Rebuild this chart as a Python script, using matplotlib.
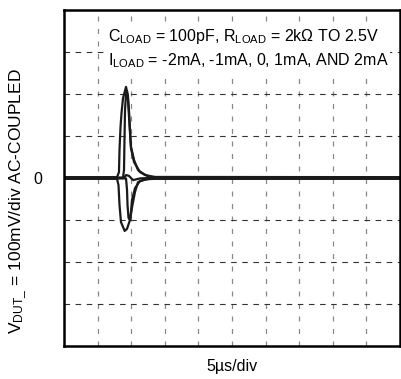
import matplotlib.pyplot as plt
import numpy as np

plt.rcParams['font.family'] = ['Liberation Sans', 'DejaVu Sans']
plt.rcParams['mathtext.fontset'] = 'custom'
plt.rcParams['mathtext.rm'] = 'Liberation Sans'
plt.rcParams['mathtext.it'] = 'Liberation Sans'

# time in us (5us/div), voltage in mV (100mV/div)
t_2ma = [0, 7.89, 8.18, 8.26, 8.41, 8.56, 8.78, 9.23, 9.52, 9.67, 9.82, 9.97, 10.42, 11.01, 12.05, 13.54, 50]
v_2ma = [2, 2, 14, 67, 121, 155, 190, 217, 195, 162, 114, 74, 43, 19, 7, 2.5, 2]

t_1ma = [0, 8.78, 8.93, 9.0, 9.08, 9.23, 9.38, 9.52, 9.75, 9.97, 10.42, 11.31, 12.8, 15.03, 50]
v_1ma = [1, 1, 19, 90, 162, 202, 207, 186, 126, 71, 38, 14, 2, 1, 1]

t_0ma = [0, 8.93, 9.23, 9.67, 10.27, 11.31, 12.8, 50]
v_0ma = [0, 0, 7, 5, -5, -1, 0, 0]

t_m1ma = [0, 9.23, 9.38, 9.45, 9.6, 9.82, 9.97, 10.12, 10.57, 11.31, 12.8, 14.3, 50]
v_m1ma = [-1, -1, -29, -64, -95, -100, -81, -52, -24, -7, -1.5, -1, -1]

t_m2ma = [0, 7.89, 8.11, 8.26, 8.48, 9.03, 9.38, 9.82, 10.19, 10.57, 11.01, 12.05, 13.54, 50]
v_m2ma = [-2, -2, -17, -64, -105, -126, -121, -100, -64, -33, -10, -3, -2, -2]

traces = [(t_2ma, v_2ma), (t_1ma, v_1ma), (t_0ma, v_0ma), (t_m1ma, v_m1ma), (t_m2ma, v_m2ma)]

fig = plt.figure(figsize=(4.02, 3.79), dpi=100)
ax = fig.add_axes([64/402, 33/379, 336/402, 336/379])

for t, v in traces:
    ax.plot(t, v, color='#1a1a1a', lw=1.6, solid_joinstyle='round')

ax.set_xlim(0, 50)
ax.set_ylim(-400, 400)
ax.set_xticks(np.arange(5, 50, 5))
ax.set_yticks(np.arange(-300, 400, 100))
ax.set_xticklabels([])
ax.set_yticklabels(['' if y != 0 else '0' for y in np.arange(-300, 400, 100)], fontsize=11.5)
ax.tick_params(length=0, pad=16)

for x in np.arange(5, 50, 5):
    ax.axvline(x, color='#888888', lw=0.9, dashes=(4, 6), zorder=0)
for y in np.arange(-300, 400, 100):
    if y != 0:
        ax.axhline(y, color='#333333', lw=0.8, dashes=(5, 5), zorder=0)

for s in ax.spines.values():
    s.set_linewidth(1.8)

box = dict(facecolor='white', edgecolor='none', pad=1)
ax.text(0.13, 0.922, r'C$_{\mathrm{LOAD}}$ = 100pF, R$_{\mathrm{LOAD}}$ = 2k$\Omega$ TO 2.5V',
        transform=ax.transAxes, fontsize=11.5, va='center', ha='left', bbox=box)
ax.text(0.13, 0.848, r'I$_{\mathrm{LOAD}}$ = -2mA, -1mA, 0, 1mA, AND 2mA',
        transform=ax.transAxes, fontsize=11.5, va='center', ha='left', bbox=box)

fig.text(232/402, 1 - 366/379, '5µs/div', fontsize=11.5, ha='center', va='center')
fig.text(18/402, 1 - 201/379, r'V$_{\mathrm{DUT\_}}$ = 100mV/div AC-COUPLED',
         rotation=90, fontsize=12.5, ha='center', va='center')

fig.savefig('out.png', dpi=100)
